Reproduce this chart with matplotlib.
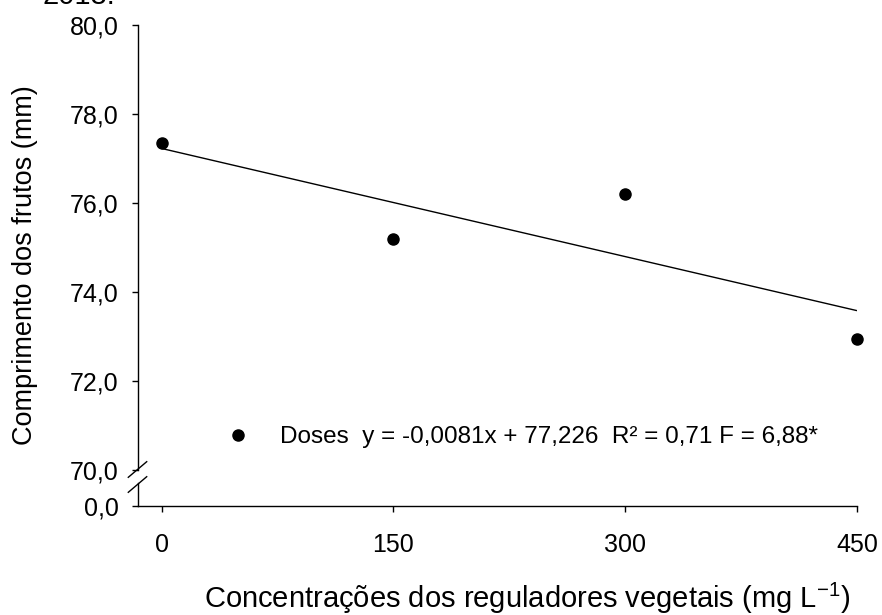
import matplotlib
matplotlib.use("Agg")
import matplotlib.pyplot as plt
from matplotlib.lines import Line2D
from matplotlib.ticker import FuncFormatter

plt.rcParams['font.family'] = ['Liberation Sans', 'DejaVu Sans']
plt.rcParams['mathtext.fontset'] = 'custom'
plt.rcParams['mathtext.rm'] = 'Liberation Sans'
plt.rcParams['mathtext.it'] = 'Liberation Sans'

# ---- data ----
doses = [0, 150, 300, 450]
comprimento = [77.34, 75.19, 76.20, 72.94]
slope = -0.0081
intercept = 77.226
x_ticks = [0, 150, 300, 450]
y_ticks = [70, 72, 74, 76, 78, 80]
legend_label = "Doses  y = -0,0081x + 77,226  R² = 0,71 F = 6,88*"
xlabel = "Concentrações dos reguladores vegetais (mg L$^{-1}$)"
ylabel = "Comprimento dos frutos (mm)"
top_text = "2013."

W, H = 882, 615
fig = plt.figure(figsize=(W / 100, H / 100), dpi=100)

def fx(px):
    return px / W

def fy(py):
    return 1 - py / H

x_left_px, x_right_px = 138, 857
x0_px, x450_px = 161.5, 857
ppu = (x450_px - x0_px) / 450.0
xmin = (x_left_px - x0_px) / ppu

ax = fig.add_axes([fx(x_left_px), fy(470), fx(x_right_px) - fx(x_left_px), fy(25) - fy(470)])
axb = fig.add_axes([fx(x_left_px), fy(506), fx(x_right_px) - fx(x_left_px), fy(483) - fy(506)])

lw = 1.0
tick_fs = 18

# top axes
ax.set_xlim(xmin, 450)
ax.set_ylim(70, 80)
for s in ['top', 'right', 'bottom']:
    ax.spines[s].set_visible(False)
ax.spines['left'].set_linewidth(lw)
ax.set_yticks(y_ticks)
ax.yaxis.set_major_formatter(FuncFormatter(lambda v, p: f"{v:.1f}".replace('.', ',')))
ax.tick_params(axis='y', direction='out', length=6 * 0.72, width=lw, labelsize=tick_fs, pad=9.5)
ax.set_xticks([])
ax.patch.set_alpha(0)

xs_line = [0, 450]
ys_line = [intercept + slope * v for v in xs_line]
ax.plot(xs_line, ys_line, color='black', lw=1.0, solid_capstyle='butt')
ax.plot(doses, comprimento, 'o', color='black', markersize=8, label=legend_label, clip_on=False)

fs_leg = 17.5
handle_px = fs_leg * 100 / 72.0
left_px = 238 - handle_px / 2
htp = (280 - (left_px + handle_px)) / handle_px
ax.legend(loc='center left', bbox_to_anchor=(fx(left_px), fy(437)), bbox_transform=fig.transFigure,
          frameon=False, fontsize=fs_leg, handlelength=1.0, handletextpad=htp,
          borderpad=0, borderaxespad=0, numpoints=1)

# bottom axes (broken part)
axb.set_xlim(xmin, 450)
axb.set_ylim(0, 10)
for s in ['top', 'right']:
    axb.spines[s].set_visible(False)
axb.spines['left'].set_linewidth(lw)
axb.spines['bottom'].set_linewidth(lw)
axb.set_yticks([0])
axb.set_yticklabels(["0,0"])
axb.set_xticks(x_ticks)
axb.set_xticklabels([str(v) for v in x_ticks])
axb.tick_params(axis='y', direction='out', length=6 * 0.72, width=lw, labelsize=tick_fs, pad=9.5)
axb.tick_params(axis='x', direction='out', length=6 * 0.72, width=lw, labelsize=tick_fs, pad=15)
axb.patch.set_alpha(0)

# break marks
for (x1, y1, x2, y2) in [(128.3, 477.3, 146.7, 461.7), (128.3, 492.3, 146.7, 476.7)]:
    fig.add_artist(Line2D([fx(x1), fx(x2)], [fy(y1), fy(y2)], transform=fig.transFigure,
                          color='black', lw=lw))

# axis labels
fig.text(fx(25), fy(265), ylabel, rotation=90, ha='center', va='center', fontsize=19.5)
fig.text(fx(527), fy(598), xlabel, ha='center', va='center', fontsize=21)

# cut-off text at top
fig.text(fx(42), fy(4), top_text, ha='left', va='baseline', fontsize=21)

fig.savefig("out.png", dpi=100)
